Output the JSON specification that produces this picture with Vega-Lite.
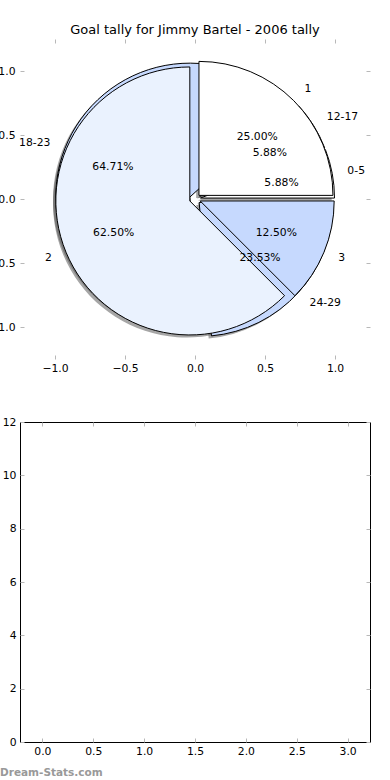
{
  "$schema": "https://vega.github.io/schema/vega-lite/v6.json",
  "background": "white",
  "padding": {"left": -12, "top": 23, "right": 0, "bottom": 4},
  "bounds": "flush",
  "spacing": 63,
  "config": {
    "font": "DejaVu Sans",
    "view": {"stroke": null},
    "axis": {"domain": false, "grid": false, "ticks": true, "tickColor": "#b8b8b8", "tickSize": -4, "tickWidth": 1, "labelFont": "DejaVu Sans", "labelFontSize": 10.8, "labelColor": "black", "labelFlush": false, "labelOverlap": false},
    "text": {"font": "DejaVu Sans", "fontSize": 10.8, "color": "black"}
  },
  "datasets": {
    "pies": [
      {"pie": "score", "label": "1", "count": 2, "pct": "25.00%"},
      {"pie": "score", "label": "2", "count": 5, "pct": "62.50%"},
      {"pie": "score", "label": "3", "count": 1, "pct": "12.50%"},
      {"pie": "age", "label": "0-5", "count": 1, "pct": "5.88%"},
      {"pie": "age", "label": "12-17", "count": 1, "pct": "5.88%"},
      {"pie": "age", "label": "18-23", "count": 11, "pct": "64.71%"},
      {"pie": "age", "label": "24-29", "count": 4, "pct": "23.53%"}
    ]
  },
  "vconcat": [
    {
      "width": 350,
      "height": 320,
      "title": {"text": "Goal tally for Jimmy Bartel - 2006 tally", "fontSize": 13, "fontWeight": "normal", "font": "DejaVu Sans", "color": "black", "anchor": "middle", "baseline": "bottom", "offset": -11},
      "data": {"name": "pies"},
      "layer": [
        {"transform": [{"filter": "datum.pie === 'age'"}], "mark": {"type": "arc", "radius": 134, "fill": "#4d4d4d"},
         "encoding": {"theta": {"field": "count", "type": "quantitative", "stack": "normalize", "scale": {"domain": [0, 1], "range": [1.5707963, -4.712389]}}, "order": {"field": "label", "type": "ordinal"},
           "x": {"datum": 0.0193, "type": "quantitative", "scale": {"domain": [-1.25, 1.25], "nice": false, "zero": false}, "axis": null},
           "y": {"datum": -0.0126, "type": "quantitative", "scale": {"domain": [-1.25, 1.25], "nice": false, "zero": false}, "axis": null},
           "opacity": {"condition": {"test": "datum.label === '0-5'", "value": 0.5}, "value": 0}}},
        {"transform": [{"filter": "datum.pie === 'age'"}], "mark": {"type": "arc", "radius": 134, "fill": "#4d4d4d"},
         "encoding": {"theta": {"field": "count", "type": "quantitative", "stack": "normalize", "scale": {"domain": [0, 1], "range": [1.5707963, -4.712389]}}, "order": {"field": "label", "type": "ordinal"},
           "x": {"datum": 0.014, "type": "quantitative", "scale": {"domain": [-1.25, 1.25], "nice": false, "zero": false}, "axis": null},
           "y": {"datum": 0.0011, "type": "quantitative", "scale": {"domain": [-1.25, 1.25], "nice": false, "zero": false}, "axis": null},
           "opacity": {"condition": {"test": "datum.label === '12-17'", "value": 0.5}, "value": 0}}},
        {"transform": [{"filter": "datum.pie === 'age'"}], "mark": {"type": "arc", "radius": 134, "fill": "#4d4d4d"},
         "encoding": {"theta": {"field": "count", "type": "quantitative", "stack": "normalize", "scale": {"domain": [0, 1], "range": [1.5707963, -4.712389]}}, "order": {"field": "label", "type": "ordinal"},
           "x": {"datum": -0.0573, "type": "quantitative", "scale": {"domain": [-1.25, 1.25], "nice": false, "zero": false}, "axis": null},
           "y": {"datum": -0.0055, "type": "quantitative", "scale": {"domain": [-1.25, 1.25], "nice": false, "zero": false}, "axis": null},
           "opacity": {"condition": {"test": "datum.label === '18-23'", "value": 0.5}, "value": 0}}},
        {"transform": [{"filter": "datum.pie === 'age'"}], "mark": {"type": "arc", "radius": 134, "fill": "#4d4d4d"},
         "encoding": {"theta": {"field": "count", "type": "quantitative", "stack": "normalize", "scale": {"domain": [0, 1], "range": [1.5707963, -4.712389]}}, "order": {"field": "label", "type": "ordinal"},
           "x": {"datum": 0.0096, "type": "quantitative", "scale": {"domain": [-1.25, 1.25], "nice": false, "zero": false}, "axis": null},
           "y": {"datum": -0.0469, "type": "quantitative", "scale": {"domain": [-1.25, 1.25], "nice": false, "zero": false}, "axis": null},
           "opacity": {"condition": {"test": "datum.label === '24-29'", "value": 0.5}, "value": 0}}},
        {"transform": [{"filter": "datum.pie === 'score'"}], "mark": {"type": "arc", "radius": 134, "fill": "#4d4d4d"},
         "encoding": {"theta": {"field": "count", "type": "quantitative", "stack": "normalize", "scale": {"domain": [0, 1], "range": [1.5707963, -4.712389]}}, "order": {"field": "label", "type": "ordinal"},
           "x": {"datum": 0.0083, "type": "quantitative", "scale": {"domain": [-1.25, 1.25], "nice": false, "zero": false}, "axis": null},
           "y": {"datum": 0.0083, "type": "quantitative", "scale": {"domain": [-1.25, 1.25], "nice": false, "zero": false}, "axis": null},
           "opacity": {"condition": {"test": "datum.label === '1'", "value": 0.5}, "value": 0}}},
        {"transform": [{"filter": "datum.pie === 'score'"}], "mark": {"type": "arc", "radius": 134, "fill": "#4d4d4d"},
         "encoding": {"theta": {"field": "count", "type": "quantitative", "stack": "normalize", "scale": {"domain": [0, 1], "range": [1.5707963, -4.712389]}}, "order": {"field": "label", "type": "ordinal"},
           "x": {"datum": -0.057, "type": "quantitative", "scale": {"domain": [-1.25, 1.25], "nice": false, "zero": false}, "axis": null},
           "y": {"datum": -0.0353, "type": "quantitative", "scale": {"domain": [-1.25, 1.25], "nice": false, "zero": false}, "axis": null},
           "opacity": {"condition": {"test": "datum.label === '2'", "value": 0.5}, "value": 0}}},
        {"transform": [{"filter": "datum.pie === 'score'"}], "mark": {"type": "arc", "radius": 134, "fill": "#4d4d4d"},
         "encoding": {"theta": {"field": "count", "type": "quantitative", "stack": "normalize", "scale": {"domain": [0, 1], "range": [1.5707963, -4.712389]}}, "order": {"field": "label", "type": "ordinal"},
           "x": {"datum": 0.017, "type": "quantitative", "scale": {"domain": [-1.25, 1.25], "nice": false, "zero": false}, "axis": null},
           "y": {"datum": -0.0353, "type": "quantitative", "scale": {"domain": [-1.25, 1.25], "nice": false, "zero": false}, "axis": null},
           "opacity": {"condition": {"test": "datum.label === '3'", "value": 0.5}, "value": 0}}},
        {"transform": [{"filter": "datum.pie === 'age'"}], "mark": {"type": "arc", "radius": 134, "fill": "white", "stroke": "black", "strokeWidth": 1},
         "encoding": {"theta": {"field": "count", "type": "quantitative", "stack": "normalize", "scale": {"domain": [0, 1], "range": [1.5707963, -4.712389]}}, "order": {"field": "label", "type": "ordinal"},
           "x": {"datum": 0.0393, "type": "quantitative", "scale": {"domain": [-1.25, 1.25], "nice": false, "zero": false}, "axis": null},
           "y": {"datum": 0.0074, "type": "quantitative", "scale": {"domain": [-1.25, 1.25], "nice": false, "zero": false}, "axis": null},
           "opacity": {"condition": {"test": "datum.label === '0-5'", "value": 1}, "value": 0}}},
        {"transform": [{"filter": "datum.pie === 'age'"}], "mark": {"type": "arc", "radius": 134, "fill": "white", "stroke": "black", "strokeWidth": 1},
         "encoding": {"theta": {"field": "count", "type": "quantitative", "stack": "normalize", "scale": {"domain": [0, 1], "range": [1.5707963, -4.712389]}}, "order": {"field": "label", "type": "ordinal"},
           "x": {"datum": 0.034, "type": "quantitative", "scale": {"domain": [-1.25, 1.25], "nice": false, "zero": false}, "axis": null},
           "y": {"datum": 0.0211, "type": "quantitative", "scale": {"domain": [-1.25, 1.25], "nice": false, "zero": false}, "axis": null},
           "opacity": {"condition": {"test": "datum.label === '12-17'", "value": 1}, "value": 0}}},
        {"transform": [{"filter": "datum.pie === 'age'"}], "mark": {"type": "arc", "radius": 134, "fill": "#c6d9fe", "stroke": "black", "strokeWidth": 1},
         "encoding": {"theta": {"field": "count", "type": "quantitative", "stack": "normalize", "scale": {"domain": [0, 1], "range": [1.5707963, -4.712389]}}, "order": {"field": "label", "type": "ordinal"},
           "x": {"datum": -0.0373, "type": "quantitative", "scale": {"domain": [-1.25, 1.25], "nice": false, "zero": false}, "axis": null},
           "y": {"datum": 0.0145, "type": "quantitative", "scale": {"domain": [-1.25, 1.25], "nice": false, "zero": false}, "axis": null},
           "opacity": {"condition": {"test": "datum.label === '18-23'", "value": 1}, "value": 0}}},
        {"transform": [{"filter": "datum.pie === 'age'"}], "mark": {"type": "arc", "radius": 134, "fill": "#c6d9fe", "stroke": "black", "strokeWidth": 1},
         "encoding": {"theta": {"field": "count", "type": "quantitative", "stack": "normalize", "scale": {"domain": [0, 1], "range": [1.5707963, -4.712389]}}, "order": {"field": "label", "type": "ordinal"},
           "x": {"datum": 0.0296, "type": "quantitative", "scale": {"domain": [-1.25, 1.25], "nice": false, "zero": false}, "axis": null},
           "y": {"datum": -0.0269, "type": "quantitative", "scale": {"domain": [-1.25, 1.25], "nice": false, "zero": false}, "axis": null},
           "opacity": {"condition": {"test": "datum.label === '24-29'", "value": 1}, "value": 0}}},
        {"transform": [{"filter": "datum.pie === 'score'"}], "mark": {"type": "arc", "radius": 134, "fill": "white", "stroke": "black", "strokeWidth": 1},
         "encoding": {"theta": {"field": "count", "type": "quantitative", "stack": "normalize", "scale": {"domain": [0, 1], "range": [1.5707963, -4.712389]}}, "order": {"field": "label", "type": "ordinal"},
           "x": {"datum": 0.0283, "type": "quantitative", "scale": {"domain": [-1.25, 1.25], "nice": false, "zero": false}, "axis": {"orient": "bottom", "values": [-1, -0.5, 0, 0.5, 1], "format": ".1f", "title": null, "labelPadding": 7}},
           "y": {"datum": 0.0283, "type": "quantitative", "scale": {"domain": [-1.25, 1.25], "nice": false, "zero": false}, "axis": {"orient": "left", "values": [-1, -0.5, 0, 0.5, 1], "format": ".1f", "title": null, "labelPadding": 9}},
           "opacity": {"condition": {"test": "datum.label === '1'", "value": 1}, "value": 0}}},
        {"transform": [{"filter": "datum.pie === 'score'"}], "mark": {"type": "arc", "radius": 134, "fill": "#eaf2fe", "stroke": "black", "strokeWidth": 1},
         "encoding": {"theta": {"field": "count", "type": "quantitative", "stack": "normalize", "scale": {"domain": [0, 1], "range": [1.5707963, -4.712389]}}, "order": {"field": "label", "type": "ordinal"},
           "x": {"datum": -0.037, "type": "quantitative", "scale": {"domain": [-1.25, 1.25], "nice": false, "zero": false}, "axis": {"orient": "top", "values": [-1, -0.5, 0, 0.5, 1], "labels": false, "title": null}},
           "y": {"datum": -0.0153, "type": "quantitative", "scale": {"domain": [-1.25, 1.25], "nice": false, "zero": false}, "axis": {"orient": "right", "values": [-1, -0.5, 0, 0.5, 1], "labels": false, "title": null}},
           "opacity": {"condition": {"test": "datum.label === '2'", "value": 1}, "value": 0}}},
        {"transform": [{"filter": "datum.pie === 'score'"}], "mark": {"type": "arc", "radius": 134, "fill": "#c6d9fe", "stroke": "black", "strokeWidth": 1},
         "encoding": {"theta": {"field": "count", "type": "quantitative", "stack": "normalize", "scale": {"domain": [0, 1], "range": [1.5707963, -4.712389]}}, "order": {"field": "label", "type": "ordinal"},
           "x": {"datum": 0.037, "type": "quantitative", "scale": {"domain": [-1.25, 1.25], "nice": false, "zero": false}, "axis": null},
           "y": {"datum": -0.0153, "type": "quantitative", "scale": {"domain": [-1.25, 1.25], "nice": false, "zero": false}, "axis": null},
           "opacity": {"condition": {"test": "datum.label === '3'", "value": 1}, "value": 0}}},
        {"transform": [{"filter": "datum.pie === 'age'"}], "mark": {"type": "text", "radius": 88, "align": "center", "baseline": "middle"},
         "encoding": {"theta": {"field": "count", "type": "quantitative", "stack": "normalize", "scale": {"domain": [0, 1], "range": [1.5707963, -4.712389]}}, "order": {"field": "label", "type": "ordinal"},
           "text": {"field": "pct"}}},
        {"transform": [{"filter": "datum.pie === 'score'"}], "mark": {"type": "text", "radius": 88, "align": "center", "baseline": "middle"},
         "encoding": {"theta": {"field": "count", "type": "quantitative", "stack": "normalize", "scale": {"domain": [0, 1], "range": [1.5707963, -4.712389]}}, "order": {"field": "label", "type": "ordinal"},
           "text": {"field": "pct"}}},
        {"transform": [{"filter": "datum.pie === 'age'"}], "mark": {"type": "text", "radius": 155, "align": "left", "baseline": "middle"},
         "encoding": {"theta": {"field": "count", "type": "quantitative", "stack": "normalize", "scale": {"domain": [0, 1], "range": [1.5707963, -4.712389]}}, "order": {"field": "label", "type": "ordinal"},
           "text": {"condition": {"test": "datum.label !== '18-23'", "field": "label"}, "value": ""}}},
        {"transform": [{"filter": "datum.pie === 'age'"}], "mark": {"type": "text", "radius": 155, "align": "right", "baseline": "middle"},
         "encoding": {"theta": {"field": "count", "type": "quantitative", "stack": "normalize", "scale": {"domain": [0, 1], "range": [1.5707963, -4.712389]}}, "order": {"field": "label", "type": "ordinal"},
           "text": {"condition": {"test": "datum.label === '18-23'", "field": "label"}, "value": ""}}},
        {"transform": [{"filter": "datum.pie === 'score'"}], "mark": {"type": "text", "radius": 155, "align": "left", "baseline": "middle"},
         "encoding": {"theta": {"field": "count", "type": "quantitative", "stack": "normalize", "scale": {"domain": [0, 1], "range": [1.5707963, -4.712389]}}, "order": {"field": "label", "type": "ordinal"},
           "text": {"condition": {"test": "datum.label !== '2'", "field": "label"}, "value": ""}}},
        {"transform": [{"filter": "datum.pie === 'score'"}], "mark": {"type": "text", "radius": 155, "align": "right", "baseline": "middle"},
         "encoding": {"theta": {"field": "count", "type": "quantitative", "stack": "normalize", "scale": {"domain": [0, 1], "range": [1.5707963, -4.712389]}}, "order": {"field": "label", "type": "ordinal"},
           "text": {"condition": {"test": "datum.label === '2'", "field": "label"}, "value": ""}}}
      ]
    },
    {
      "width": 350,
      "height": 320,
      "view": {"stroke": "black", "strokeWidth": 1},
      "data": {"values": []},
      "title": {"text": "Dream-Stats.com", "orient": "bottom", "anchor": "start", "frame": "group", "offset": 12, "dx": -20, "baseline": "top", "fontSize": 10.5, "fontWeight": "bold", "color": "#999999", "font": "DejaVu Sans"},
      "layer": [
        {"mark": "point", "encoding": {
          "x": {"field": "x", "type": "quantitative", "scale": {"domain": [-0.22, 3.22], "nice": false, "zero": false}, "axis": {"orient": "bottom", "values": [0, 0.5, 1, 1.5, 2, 2.5, 3], "format": ".1f", "title": null, "labelPadding": 7}},
          "y": {"field": "y", "type": "quantitative", "scale": {"domain": [0, 12], "nice": false, "zero": false}, "axis": {"orient": "left", "values": [0, 2, 4, 6, 8, 10, 12], "format": "d", "title": null, "labelPadding": 8}}}},
        {"mark": "point", "encoding": {
          "x": {"field": "x", "type": "quantitative", "scale": {"domain": [-0.22, 3.22], "nice": false, "zero": false}, "axis": {"orient": "top", "values": [0, 0.5, 1, 1.5, 2, 2.5, 3], "labels": false, "title": null}},
          "y": {"field": "y", "type": "quantitative", "scale": {"domain": [0, 12], "nice": false, "zero": false}, "axis": {"orient": "right", "values": [0, 2, 4, 6, 8, 10, 12], "labels": false, "title": null}}}}
      ]
    }
  ]
}
